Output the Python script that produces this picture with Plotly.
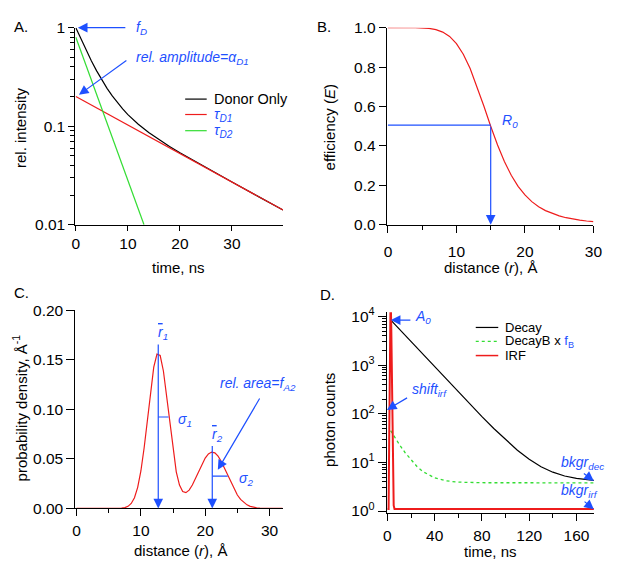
import plotly.graph_objects as go

# The page body keeps its default 8px margin, so the figure is 16px smaller
# than the window and every reference pixel position is shifted by 8px.
PAGE_W, PAGE_H = 617, 569
OFF = 8
W, H = PAGE_W - 2 * OFF, PAGE_H - 2 * OFF
FONT = "Liberation Sans, Arial, Helvetica, sans-serif"
BLUE = "#1E50FF"
RED = "#EE1C1C"
GREEN = "#33DD33"

# ---------------- Panel A data ----------------
t_donor = [0, 1, 2, 3, 4, 5, 6, 7, 8, 9, 10, 12, 14, 16, 18, 20, 22, 25, 30, 35, 39.8]
i_donor = [1.0, 0.760, 0.586, 0.458, 0.364, 0.294, 0.242, 0.203, 0.173, 0.150, 0.131,
           0.1046, 0.0861, 0.0727, 0.0622, 0.0537, 0.0467, 0.0380, 0.0271, 0.0194, 0.0141]
t_tau1 = [0, 39.8]
i_tau1 = [0.2, 0.0141]
t_tau2 = [0, 13.1]
i_tau2 = [0.8, 0.01]
legend_A = ["Donor Only",
            "<i>τ</i><sub><i>D1</i></sub>",
            "<i>τ</i><sub><i>D2</i></sub>"]

# ---------------- Panel B data ----------------
r_eff = [0, 2, 4, 6, 7, 8, 9, 10, 11, 12, 13, 14, 15, 16, 17, 18, 19, 20, 21, 22, 23, 24,
         25, 26, 27, 28, 29, 30]
E_eff = [1.0, 1.0, 0.9996, 0.9959, 0.9897, 0.9775, 0.9554, 0.9193, 0.8654, 0.7923, 0.7023,
         0.6021, 0.5, 0.4043, 0.3207, 0.2509, 0.1949, 0.1511, 0.1172, 0.0913, 0.0716, 0.0562,
         0.0446, 0.0355, 0.0286, 0.0231, 0.0188, 0.0154]
R0 = 15.0
E_R0 = 0.505

# ---------------- Panel C data ----------------
r_pd = [0, 5, 7, 7.5, 8, 8.5, 9, 9.5, 10, 10.5, 11, 11.5, 12, 12.5, 13, 13.5, 14, 14.5, 15,
        15.5, 16, 16.5, 17, 17.5, 18, 18.5, 19, 19.5, 20, 20.5, 21, 21.5, 22, 22.5, 23, 23.5,
        24, 24.5, 25, 25.5, 26, 26.5, 27, 27.5, 28, 28.5, 29, 30, 32]
p_pd = [0, 0, 0.0003, 0.0008, 0.0021, 0.0050, 0.0108, 0.0213, 0.0378, 0.0610, 0.0893, 0.1185,
        0.1427, 0.1558, 0.1544, 0.1388, 0.1134, 0.0843, 0.0576, 0.0369, 0.0236, 0.0171, 0.0159,
        0.0185, 0.0236, 0.0303, 0.0376, 0.0448, 0.0508, 0.0551, 0.0569, 0.0561, 0.0528, 0.0474,
        0.0405, 0.0331, 0.0257, 0.0191, 0.0135, 0.0091, 0.0059, 0.0036, 0.0021, 0.0012, 0.0006,
        0.0003, 0.0002, 0, 0]
r_mean = [12.7, 21.1]
r_mean_top = [0.167, 0.0646]
sigma_y = [0.0923, 0.0326]
sigma_end = [14.3, 23.5]

# ---------------- Panel D data ----------------
t_dec = [2.7, 10, 20, 30, 40, 50, 60, 70, 80, 90, 100, 110, 120, 130, 140, 150, 160, 170, 175]
c_dec = [8504, 5494, 3021, 1663, 915, 505, 279, 155.3, 87.1, 49.7, 29.1, 17.8, 11.6, 8.16,
         6.29, 5.26, 4.69, 4.38, 4.28]
t_decB = [2.7, 5, 10, 15, 20, 25, 30, 40, 50, 60, 80, 100, 175]
c_decB = [45, 36.5, 23.6, 15.8, 11.1, 8.23, 6.49, 4.79, 4.16, 3.93, 3.82, 3.80, 3.80]
t_irf = [0, 1.0, 1.5, 2.0, 2.7, 3.3, 3.8, 4.3, 4.8, 5.3, 6.0, 175]
c_irf = [1.1, 1.1, 30, 2000, 30000, 5000, 300, 20, 3, 1.3, 1.1, 1.1]
legend_D = ["Decay",
            "DecayB x <span style='color:%s'>f<sub>B</sub></span>" % BLUE,
            "IRF"]


def fx(p):
    return (p - OFF) / W


def fy(p):
    return 1 - (p - OFF) / H


fig = go.Figure()

# Panel A
fig.add_trace(go.Scatter(x=t_donor, y=i_donor, mode="lines", name=legend_A[0], showlegend=False,
                         line=dict(color="black", width=1.2), xaxis="x", yaxis="y"))
fig.add_trace(go.Scatter(x=t_tau1, y=i_tau1, mode="lines", name="tau D1", showlegend=False,
                         line=dict(color=RED, width=1.2), xaxis="x", yaxis="y"))
fig.add_trace(go.Scatter(x=t_tau2, y=i_tau2, mode="lines", name="tau D2", showlegend=False,
                         line=dict(color=GREEN, width=1.2), xaxis="x", yaxis="y"))

# Panel B
fig.add_trace(go.Scatter(x=r_eff, y=E_eff, mode="lines", showlegend=False,
                         line=dict(color=RED, width=1.2), xaxis="x2", yaxis="y2"))
fig.add_trace(go.Scatter(x=[0, R0], y=[E_R0, E_R0], mode="lines", showlegend=False,
                         line=dict(color=BLUE, width=1.2), xaxis="x2", yaxis="y2"))

# Panel C
fig.add_trace(go.Scatter(x=r_pd, y=p_pd, mode="lines", showlegend=False,
                         line=dict(color=RED, width=1.2), xaxis="x3", yaxis="y3"))
for k in range(2):
    fig.add_trace(go.Scatter(x=[r_mean[k], sigma_end[k]], y=[sigma_y[k], sigma_y[k]], mode="lines",
                             showlegend=False, line=dict(color=BLUE, width=1.2),
                             xaxis="x3", yaxis="y3"))

# Panel D
fig.add_trace(go.Scatter(x=t_dec, y=c_dec, mode="lines", name="Decay", showlegend=False,
                         line=dict(color="black", width=1.2), xaxis="x4", yaxis="y4"))
fig.add_trace(go.Scatter(x=t_decB, y=c_decB, mode="lines", name="DecayB", showlegend=False,
                         line=dict(color=GREEN, width=1.3, dash="dot"), xaxis="x4", yaxis="y4"))
fig.add_trace(go.Scatter(x=t_irf, y=c_irf, mode="lines", name="IRF", showlegend=False,
                         line=dict(color=RED, width=2), xaxis="x4", yaxis="y4"))


def axis(**kw):
    d = dict(showline=True, linecolor="black", linewidth=1, ticks="outside", ticklen=7,
             tickwidth=1, tickcolor="black", showgrid=False, zeroline=False,
             ticklabeloverflow="allow",
             tickfont=dict(family=FONT, size=15.5, color="black"))
    d.update(kw)
    return d


def minor_lin(step):
    return dict(dtick=step, tick0=0, ticks="outside", ticklen=4, tickcolor="black", showgrid=False)


def minor_log(e0, e1):
    return dict(tickvals=[m * 10.0 ** e for e in range(e0, e1) for m in range(2, 10)],
                ticks="outside", ticklen=4, tickcolor="black", showgrid=False)


fig.update_layout(
    width=W, height=H, autosize=False,
    margin=dict(l=0, r=0, t=0, b=0),
    paper_bgcolor="white", plot_bgcolor="white",
    font=dict(family=FONT, size=15, color="black"),
    showlegend=False,
    xaxis=axis(domain=[fx(72.7), fx(285)], range=[-0.1, 39.8], tickvals=[0, 10, 20, 30], anchor="y",
               ticklen=5),
    yaxis=axis(domain=[fy(222.3), fy(19)], type="log", range=[-2, 0],
               tickvals=[0.01, 0.1, 1], ticktext=["0.01", "0.1", "1"], minor=minor_log(-2, 0),
               anchor="x", ticklen=6),
    xaxis2=axis(domain=[fx(391), fx(602.3)], range=[-0.18, 30], dtick=10, tick0=0,
                minor=minor_lin(5), anchor="y2", ticklabelstandoff=6),
    yaxis2=axis(domain=[fy(222.3), fy(19)], range=[0, 1], dtick=0.2, tickformat=".1f", anchor="x2"),
    xaxis3=axis(domain=[fx(72.7), fx(285)], range=[-0.2, 32.1], dtick=10, tick0=0,
                minor=minor_lin(5), anchor="y3", ticklabelstandoff=1),
    yaxis3=axis(domain=[fy(515), fy(310.7)], range=[0, 0.2], dtick=0.05, tickformat=".2f", anchor="x3",
                ticklen=8),
    xaxis4=axis(domain=[fx(391), fx(602.7)], range=[-0.6, 174.7], dtick=40, tick0=0,
                minor=minor_lin(20), anchor="y4", ticklabelstandoff=2),
    yaxis4=axis(domain=[fy(519.5), fy(312.7)], type="log", range=[-0.036, 4.086],
                tickvals=[1, 10, 100, 1000, 10000],
                ticktext=["10<sup>0</sup>", "10<sup>1</sup>", "10<sup>2</sup>", "10<sup>3</sup>",
                          "10<sup>4</sup>"],
                minor=minor_log(0, 4), anchor="x4", ticklen=8),
)

ann = []
shapes = []


def text_paper(x, y, s, angle=0, size=15, color="black", xanchor="center", yanchor="middle"):
    ann.append(dict(x=fx(x), y=fy(y), xref="paper", yref="paper", text=s, showarrow=False,
                    textangle=angle, font=dict(family=FONT, size=size, color=color),
                    xanchor=xanchor, yanchor=yanchor))


# panel letters
text_paper(OFF, OFF - 1, "A.", xanchor="left", yanchor="top")
text_paper(318, OFF - 1, "B.", xanchor="left", yanchor="top")
text_paper(OFF, 281, "C.", xanchor="left", yanchor="top")
text_paper(321, 283, "D.", xanchor="left", yanchor="top")
# axis titles
text_paper(16, 121.7, "rel. intensity", angle=-90)
text_paper(178, 266.7, "time, ns")
text_paper(333, 122, "efficiency (<i>E</i>)", angle=-90)
text_paper(497.5, 266, "distance (<i>r</i>), Å")
text_paper(16, 411, "probability density, Å<sup>-1</sup>", angle=-90)
text_paper(180, 558, "distance (<i>r</i>), Å")
text_paper(333, 423.7, "photon counts", angle=-90)
text_paper(497, 559.5, "time, ns")


# hand-placed legends (line sample + text), in page pixels
def legend_row(x0, x1, y, color, dash, width, label, size, label_color="black"):
    shapes.append(dict(type="line", xref="paper", yref="paper", x0=fx(x0), x1=fx(x1),
                       y0=fy(y), y1=fy(y), line=dict(color=color, width=width, dash=dash)))
    text_paper(x1 + 5, y, label, size=size, color=label_color, xanchor="left")


legend_row(185, 207, 92.7, "black", "solid", 1.2, legend_A[0], 14.5)
legend_row(185, 207, 108.6, RED, "solid", 1.2, legend_A[1], 14.5, BLUE)
legend_row(185, 207, 125.3, GREEN, "solid", 1.2, legend_A[2], 14.5, BLUE)
legend_row(482, 505, 328.3, "black", "solid", 1.2, legend_D[0], 13)
legend_row(482, 505, 342.6, GREEN, "dot", 1.3, legend_D[1], 13)
legend_row(482, 505, 357.3, RED, "solid", 1.5, legend_D[2], 13)


def arrow(xr, yr, x, y, ax_, ay_):
    ann.append(dict(x=x, y=y, ax=ax_, ay=ay_, xref=xr, yref=yr, axref=xr, ayref=yr, text="",
                    showarrow=True, arrowhead=2, arrowsize=1.6, arrowwidth=1.2, arrowcolor=BLUE,
                    standoff=0, startstandoff=0))


def label(xr, yr, x, y, s, size=14):
    ann.append(dict(x=x, y=y, xref=xr, yref=yr, text=s, showarrow=False, xanchor="left",
                    yanchor="middle", font=dict(family=FONT, size=size, color=BLUE)))


# Panel A annotations (log axis y values in log10 units)
arrow("x", "y", 0.4, 0, 9.8, 0)
label("x", "y", 11.1, 0, "<i>f</i><sub><i>D</i></sub>")
arrow("x", "y", 0.6, -0.682, 10.0, -0.3225)
label("x", "y", 11.1, -0.306, "<i>rel. amplitude=α</i><sub><i>D1</i></sub>")

# Panel B
arrow("x2", "y2", R0, 0, R0, E_R0)
label("x2", "y2", 16.4, 0.528, "<i>R</i><sub><i>0</i></sub>")

# Panel C
for k in range(2):
    arrow("x3", "y3", r_mean[k], 0, r_mean[k], r_mean_top[k])
label("x3", "y3", 12.3, 0.177,
      "<span style='text-decoration:overline'><i>r</i></span><sub><i>1</i></sub>")
label("x3", "y3", 20.8, 0.0744,
      "<span style='text-decoration:overline'><i>r</i></span><sub><i>2</i></sub>")
label("x3", "y3", 15.4, 0.0897, "<i>σ</i><sub><i>1</i></sub>")
label("x3", "y3", 25.0, 0.0294, "<i>σ</i><sub><i>2</i></sub>")
arrow("x3", "y3", 21.96, 0.039, 28.6, 0.1125)
label("x3", "y3", 21.96, 0.1255, "<i>rel. area=f</i><sub><i>A2</i></sub>")

# Panel D
arrow("x4", "y4", 2.9, 3.926, 20.7, 3.926)
label("x4", "y4", 22.0, 3.994, "<i>A</i><sub><i>0</i></sub>")
arrow("x4", "y4", -0.4, 2.08, 17.9, 2.345)
label("x4", "y4", 19.3, 2.484, "<i>shift</i><sub><i>irf</i></sub>")
arrow("x4", "y4", 174.7, 0.618, 165.0, 0.797)
label("x4", "y4", 145.0, 0.99, "<i>bkgr</i><sub><i>dec</i></sub>")
arrow("x4", "y4", 174.7, 0.034, 165.6, 0.219)
label("x4", "y4", 145.0, 0.406, "<i>bkgr</i><sub><i>irf</i></sub>")

fig.update_layout(annotations=ann, shapes=shapes)

fig.write_html(
    "out.html",
    config={"displayModeBar": False},
    post_script="document.querySelectorAll('#{plot_id} svg.main-svg').forEach("
                "function(s){s.style.overflow='visible';});",
)
